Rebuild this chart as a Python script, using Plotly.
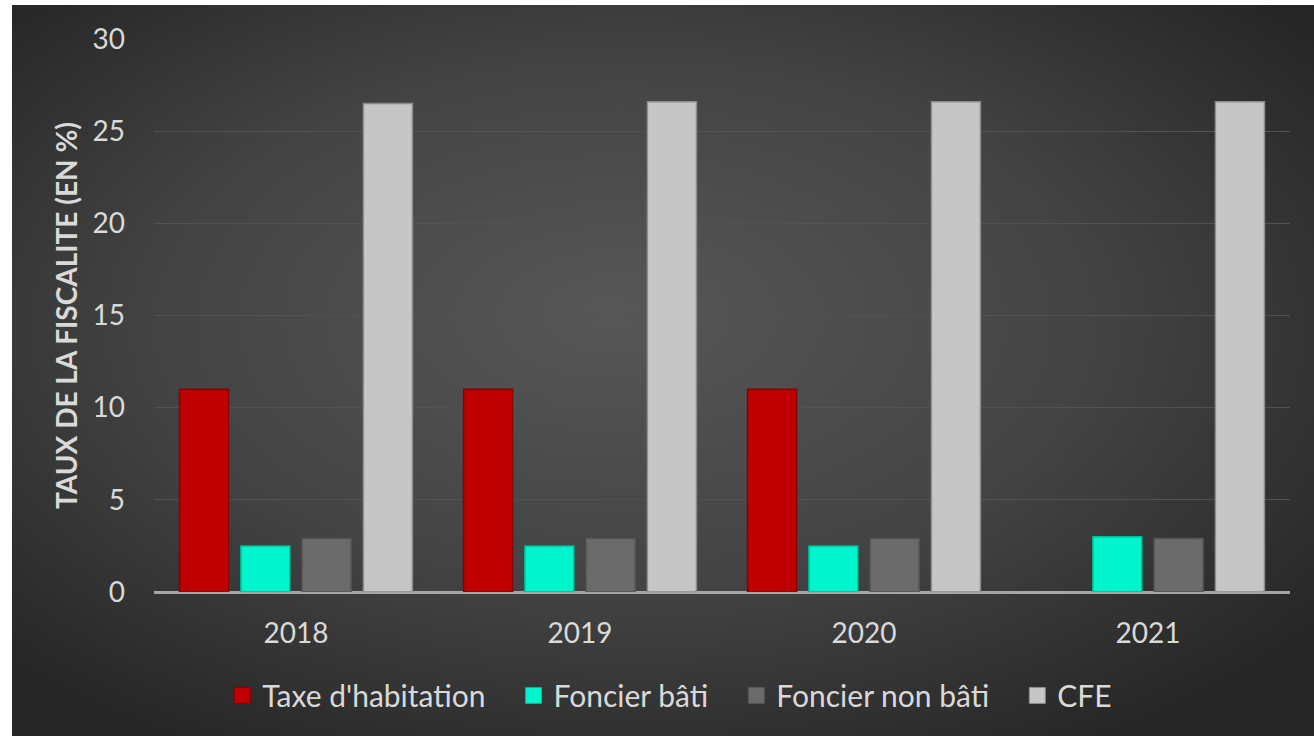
import base64
import plotly.graph_objects as go

years = ["2018", "2019", "2020", "2021"]
taxe_habitation = [11.0, 11.0, 11.0, None]
foncier_bati = [2.5, 2.5, 2.5, 3.0]
foncier_non_bati = [2.9, 2.9, 2.9, 2.9]
cfe = [26.5, 26.6, 26.6, 26.6]

series_names = ["Taxe d'habitation", "Foncier bâti", "Foncier non bâti", "CFE"]
series_values = [taxe_habitation, foncier_bati, foncier_non_bati, cfe]
fill_colors = ["#c00000", "#00f5cc", "#6b6b6b", "#c6c6c6"]
line_colors = ["#8a0000", "#00b894", "#555555", "#8c8c8c"]

y_ticks = [0, 5, 10, 15, 20, 25, 30]

W, H = 1314, 736
ML, MR, MT, MB = 154, 24, 39, 144
PW, PH = W - ML - MR, H - MT - MB

svg = (
    '<svg xmlns="http://www.w3.org/2000/svg" width="1302" height="731" '
    'viewBox="0 0 1302 731" preserveAspectRatio="none">'
    '<defs><radialGradient id="g" cx="48%" cy="45%" r="66%" fx="46%" fy="42%">'
    '<stop offset="0" stop-color="#575757"/>'
    '<stop offset="0.55" stop-color="#434343"/>'
    '<stop offset="1" stop-color="#262626"/>'
    '</radialGradient></defs>'
    '<rect width="1302" height="731" fill="url(#g)"/></svg>'
)
src = "data:image/svg+xml;base64," + base64.b64encode(svg.encode()).decode()

fig = go.Figure()
for name, vals, fc, lc in zip(series_names, series_values, fill_colors, line_colors):
    fig.add_trace(go.Bar(
        x=years, y=vals, name=name, showlegend=False,
        marker=dict(color=fc, line=dict(color=lc, width=1.5)),
    ))
# legend entries with larger square symbols (trailing no-break spaces widen item spacing)
for i, (name, fc, lc) in enumerate(zip(series_names, fill_colors, line_colors)):
    pad = "\u00a0" * 3 if i < len(series_names) - 1 else ""
    fig.add_trace(go.Scatter(
        x=[None], y=[None], name=name + pad, mode="markers",
        marker=dict(symbol="square", size=18, color=fc, line=dict(color=lc, width=1)),
    ))

font_family = "Lato, 'Open Sans', sans-serif"
fig.update_layout(
    width=W, height=H,
    margin=dict(l=ML, r=MR, t=MT, b=MB),
    paper_bgcolor="white",
    plot_bgcolor="rgba(0,0,0,0)",
    barmode="group",
    bargap=0.137,
    bargroupgap=0.2,
    font=dict(family=font_family, color="#d9d9d9", size=28),
    showlegend=True,
    legend=dict(
        orientation="h", x=0.454, xanchor="center", y=-0.14, yanchor="top",
        font=dict(size=30, color="#d9d9d9"), bgcolor="rgba(0,0,0,0)",
        itemwidth=30, traceorder="normal", itemsizing="trace",
    ),
    images=[dict(
        source=src, xref="paper", yref="paper",
        x=(12 - ML) / PW, y=(H - MB - 5) / PH,
        sizex=(W - 12) / PW, sizey=(H - 5) / PH,
        xanchor="left", yanchor="top", sizing="stretch", layer="below",
    )],
)
fig.update_xaxes(
    showgrid=False, zeroline=False, showline=False,
    tickfont=dict(size=28, color="#d9d9d9"), ticks="", ticklabelstandoff=22,
)
fig.update_yaxes(
    range=[0, 30], tickvals=y_ticks, showgrid=True, gridcolor="#525252", gridwidth=1,
    zeroline=True, zerolinecolor="#a6a6a6", zerolinewidth=2.5,
    showline=False, ticks="", ticklabelstandoff=28,
    tickfont=dict(size=28, color="#d9d9d9"),
    title=dict(text="<b>TAUX DE LA FISCALITE (EN %)</b>", standoff=6,
               font=dict(size=28, color="#d9d9d9")),
)

fig.write_html("out.html")
